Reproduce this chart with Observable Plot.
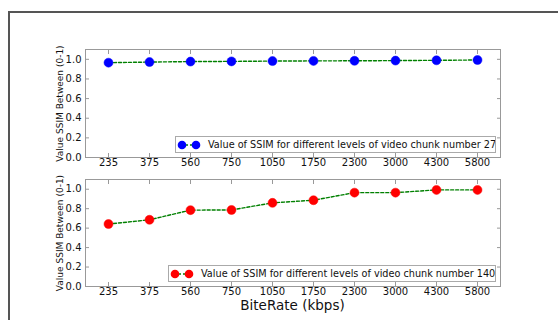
<!DOCTYPE html>
<html>
<head>
<meta charset="utf-8">
<script src="https://cdn.jsdelivr.net/npm/d3@7"></script>
<script src="https://cdn.jsdelivr.net/npm/@observablehq/plot@0.6"></script>
<style>
  html, body { margin: 0; padding: 0; background: #fff; }
  #wrap { position: relative; width: 558px; height: 320px; overflow: hidden; font-family: "DejaVu Sans", sans-serif; }
  #frame { position: absolute; left: 8px; top: 11px; width: 600px; height: 400px; border-left: 2px solid #555; border-top: 2px solid #555; }
  .panel { position: absolute; left: 0; }
  .legend { position: absolute; height: 15px; border: 1px solid #aaa; background: #fff; display: flex; align-items: center; font-size: 9.7px; color: #111; white-space: nowrap; overflow: hidden; }
  .legend svg { display: block; flex-shrink: 0; margin: 0 4px 0 0; }
  #xlabel { position: absolute; left: 85px; width: 415px; top: 298px; height: 14px; line-height: 14px; text-align: center; font-size: 13.5px; color: #111; }
</style>
</head>
<body>
<div id="wrap">
  <div id="frame"></div>
</div>
<script>
const bitrates = ["235", "375", "560", "750", "1050", "1750", "2300", "3000", "4300", "5800"];
const ssimChunk27 = [0.966, 0.972, 0.977, 0.979, 0.982, 0.984, 0.985, 0.987, 0.990, 0.993];
const ssimChunk140 = [0.642, 0.686, 0.785, 0.787, 0.860, 0.887, 0.965, 0.965, 0.993, 0.993];
const yTicks = [0, 0.2, 0.4, 0.6, 0.8, 1.0];
const yLabel = "Value SSIM Between (0-1)";
const xLabel = "BiteRate (kbps)";
const legend27 = "Value of SSIM for different levels of video chunk number 27";
const legend140 = "Value of SSIM for different levels of video chunk number 140";

const wrap = document.getElementById("wrap");

function panel(values, color, opts) {
  const data = bitrates.map((b, i) => ({b, v: values[i]}));
  const chart = Plot.plot({
    width: 558,
    height: opts.height,
    marginLeft: 85,
    marginRight: 58,
    marginTop: opts.marginTop,
    marginBottom: opts.marginBottom,
    style: {fontFamily: "DejaVu Sans, sans-serif", fontSize: "10px", color: "#111", background: "transparent", overflow: "visible"},
    x: {type: "point", domain: bitrates, padding: 0.5},
    y: {domain: [0, 1.1]},
    marks: [
      Plot.frame({stroke: "#999"}),
      Plot.axisY({anchor: "left", ticks: yTicks, tickSize: 0, tickPadding: 4, tickFormat: d3.format(".1f"), label: null, fontSize: 10}),
      Plot.axisY({anchor: "left", ticks: yTicks, tickSize: -4, tickFormat: () => "", label: null, stroke: "#999"}),
      Plot.axisY({anchor: "right", ticks: yTicks, tickSize: -4, tickFormat: () => "", label: null, stroke: "#999"}),
      Plot.axisX({anchor: "bottom", tickSize: 0, tickPadding: 1, label: null, fontSize: 10}),
      Plot.axisX({anchor: "bottom", tickSize: -4, tickFormat: () => "", label: null, stroke: "#999"}),
      Plot.axisX({anchor: "top", tickSize: -4, tickFormat: () => "", label: null, stroke: "#999"}),
      Plot.text([yLabel], {frameAnchor: "left", textAnchor: "middle", lineAnchor: "middle", rotate: -90, dx: -25, text: d => d, fontSize: 9, fill: "#111"}),
      Plot.line(data, {x: "b", y: "v", stroke: "green", strokeWidth: 1.4, strokeDasharray: "3,2"}),
      Plot.dot(data, {x: "b", y: "v", r: 4.5, fill: color, stroke: color, strokeWidth: 0.5})
    ]
  });
  const div = document.createElement("div");
  div.className = "panel";
  div.style.top = opts.top + "px";
  div.appendChild(chart);
  wrap.appendChild(div);
}

panel(ssimChunk27, "blue", {top: 0, height: 170, marginTop: 49, marginBottom: 13});
panel(ssimChunk140, "red", {top: 170, height: 150, marginTop: 9, marginBottom: 34});

function legend(text, color, left, top, width) {
  const d = document.createElement("div");
  d.className = "legend";
  d.style.left = left + "px";
  d.style.top = top + "px";
  d.style.width = width + "px";
  d.innerHTML = `<svg width="28" height="12"><line x1="6" y1="6" x2="20" y2="6" stroke="green" stroke-width="1.4" stroke-dasharray="2,2"/><circle cx="6" cy="6" r="4.3" fill="${color}"/><circle cx="20" cy="6" r="4.3" fill="${color}"/></svg><span></span>`;
  d.querySelector("span").textContent = text;
  wrap.appendChild(d);
}
legend(legend27, "blue", 175, 136, 319);
legend(legend140, "red", 168, 265, 326);

const xl = document.createElement("div");
xl.id = "xlabel";
xl.textContent = xLabel;
wrap.appendChild(xl);
</script>
</body>
</html>
